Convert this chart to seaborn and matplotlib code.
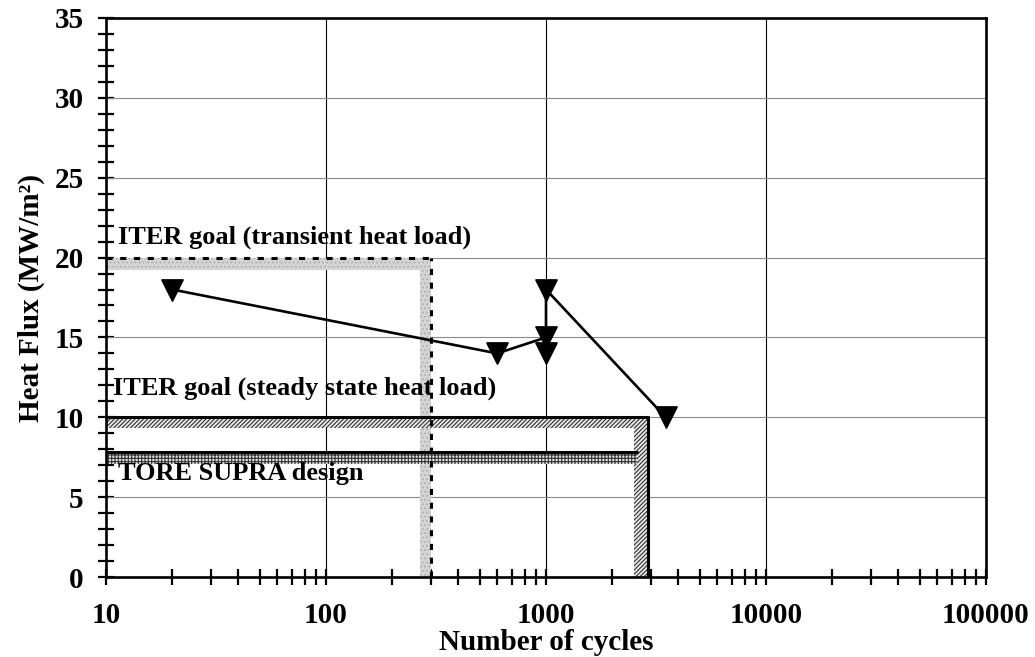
import matplotlib
matplotlib.use("Agg")
import matplotlib.pyplot as plt
import seaborn as sns
import pandas as pd
import numpy as np
from matplotlib.patches import Rectangle
from matplotlib.ticker import FixedLocator, NullFormatter, MultipleLocator

# ---- data ----
cycles_line = [20, 600, 1000, 1000, 3500]
flux_line = [18, 14, 15, 18, 10]
cycles_pts = [20, 600, 1000, 1000, 1000, 3500]
flux_pts = [18, 14, 15, 14, 18, 10]

transient_goal = [300, 20]      # cycles, MW/m2
steady_goal = [2900, 10]
tore_supra = [2600, 7.8]

x_ticks = [10, 100, 1000, 10000, 100000]
x_tick_labels = ["10", "100", "1000", "10000", "100000"]
y_ticks = [0, 5, 10, 15, 20, 25, 30, 35]

label_transient = "ITER goal (transient heat load)"
label_steady = "ITER goal (steady state heat load)"
label_tore = "TORE SUPRA design"

sns.set_theme(style="white")
plt.rcParams["font.family"] = ["Liberation Serif", "DejaVu Serif"]
plt.rcParams["font.weight"] = "bold"
plt.rcParams["text.color"] = "black"
plt.rcParams["axes.labelcolor"] = "black"
plt.rcParams["xtick.color"] = "black"
plt.rcParams["ytick.color"] = "black"
plt.rcParams["hatch.linewidth"] = 0.8

fig = plt.figure(figsize=(10.35, 6.57), dpi=100)
ax = fig.add_axes([106 / 1035, 1 - 577 / 657, 880 / 1035, 559 / 657])
ax.set_xscale("log")
ax.set_xlim(10, 100000)
ax.set_ylim(0, 35)

# grid
for xv in x_ticks[1:-1]:
    ax.axvline(xv, color="black", lw=0.8, zorder=1)
for yv in y_ticks[1:-1]:
    ax.axhline(yv, color="#8a8a8a", lw=0.8, zorder=1)

# transient box (stipple band + dotted border)
tx, ty = transient_goal
ax.add_patch(Rectangle((10, ty - 0.75), tx - 10, 0.75, facecolor="#d4d4d4",
                       edgecolor="#b0b0b0", hatch="....", lw=0, zorder=2))
ax.add_patch(Rectangle((tx / 1.12, 0), tx - tx / 1.12, ty, facecolor="#d4d4d4",
                       edgecolor="#b0b0b0", hatch="....", lw=0, zorder=2))
ax.plot([10, tx], [ty, ty], color="black", lw=2.2, ls=(0, (2, 2.5)), zorder=4)
ax.plot([tx, tx], [0, ty], color="black", lw=2.2, ls=(0, (2, 2.5)), zorder=4)

# steady state box
sx, sy = steady_goal
ax.add_patch(Rectangle((10, sy - 0.65), sx - 10, 0.65, facecolor="#e8e8e8",
                       edgecolor="#333333", hatch="////////", lw=0, zorder=2))
ax.add_patch(Rectangle((sx / 1.16, 0), sx - sx / 1.16, sy, facecolor="#e8e8e8",
                       edgecolor="#333333", hatch="////////", lw=0, zorder=2))
ax.plot([10, sx], [sy, sy], color="black", lw=2.2, zorder=4)
ax.plot([sx, sx], [0, sy], color="black", lw=2.2, zorder=4)

# Tore Supra band
tsx, tsy = tore_supra
ax.add_patch(Rectangle((10, tsy - 0.7), tsx - 10, 0.7, facecolor="#e0e0e0",
                       edgecolor="#333333", hatch="+++++", lw=0, zorder=2))
ax.plot([10, tsx], [tsy, tsy], color="black", lw=2.2, zorder=4)

# data
df_line = pd.DataFrame({"cycles": cycles_line, "flux": flux_line})
df_pts = pd.DataFrame({"cycles": cycles_pts, "flux": flux_pts})
sns.lineplot(data=df_line, x="cycles", y="flux", sort=False, estimator=None,
             color="black", lw=1.9, ax=ax, zorder=5)
sns.scatterplot(data=df_pts, x="cycles", y="flux", marker="v", s=230,
                color="black", edgecolor="black", ax=ax, zorder=6)

# labels inside
ax.text(11.3, 21.3, label_transient, fontsize=19, fontweight="bold", va="center", zorder=7)
ax.text(10.75, 11.8, label_steady, fontsize=19, fontweight="bold", va="center", zorder=7)
ax.text(11.3, 6.45, label_tore, fontsize=19, fontweight="bold", va="center", zorder=7)

# ticks
ax.xaxis.set_major_locator(FixedLocator(x_ticks))
ax.set_xticklabels(x_tick_labels)
ax.xaxis.set_minor_locator(FixedLocator([m * d for d in [10, 100, 1000, 10000] for m in range(2, 10)]))
ax.xaxis.set_minor_formatter(NullFormatter())
ax.set_yticks(y_ticks)
ax.yaxis.set_minor_locator(MultipleLocator(1))
ax.tick_params(axis="both", which="both", direction="inout", width=1.6, color="black",
               bottom=True, left=True, top=False, right=False)
ax.tick_params(axis="both", which="major", length=12, labelsize=21)
ax.tick_params(axis="both", which="minor", length=11)
ax.tick_params(axis="x", which="major", pad=12)
ax.tick_params(axis="y", which="major", pad=10)
for lab in ax.get_xticklabels() + ax.get_yticklabels():
    lab.set_fontweight("bold")

ax.set_xlabel("Number of cycles", fontsize=21, fontweight="bold", labelpad=0)
ax.set_ylabel("Heat Flux (MW/m²)", fontsize=21, fontweight="bold", labelpad=7)

for s in ax.spines.values():
    s.set_visible(True)
    s.set_color("black")
    s.set_linewidth(1.9)
    s.set_zorder(8)

fig.savefig("out.png", dpi=100)
